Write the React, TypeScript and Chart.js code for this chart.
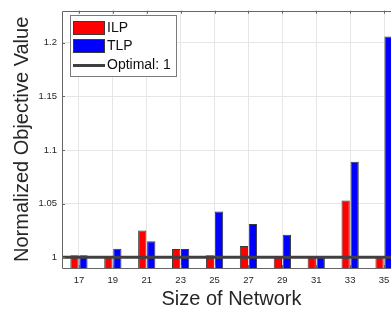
import React, { useEffect, useRef } from 'react';
import { Chart, registerables } from 'chart.js';

Chart.register(...registerables);

const categories = ['17', '19', '21', '23', '25', '27', '29', '31', '33', '35'];
const ilpValues = [1.002, 1.0003, 1.025, 1.0077, 1.0019, 1.0105, 1.0003, 1.001, 1.053, 1.0003];
const tlpValues = [1.002, 1.008, 1.015, 1.0077, 1.0426, 1.031, 1.021, 1.001, 1.089, 1.206];
const optimalValue = 1;
const optimalLabel = 'Optimal: 1';
const yTicks = [1, 1.05, 1.1, 1.15, 1.2];
const yMin = 0.99;
const yMax = 1.23;

const FONT = "'Liberation Sans', Arial, Helvetica, sans-serif";
const OPTIMAL_COLOR = '#404040';

const framePlugin = {
  id: 'frameAndLegend',
  afterDatasetsDraw(chart: any) {
    const { ctx, chartArea } = chart;
    const { left, right, top, bottom } = chartArea;
    const yScale = chart.scales.y;
    const xScale = chart.scales.x;
    ctx.save();
    // optimal reference line across the whole plot
    const yo = yScale.getPixelForValue(optimalValue);
    ctx.strokeStyle = OPTIMAL_COLOR;
    ctx.lineWidth = 3;
    ctx.beginPath();
    ctx.moveTo(left, yo);
    ctx.lineTo(right, yo);
    ctx.stroke();

    ctx.strokeStyle = '#666666';
    ctx.lineWidth = 1;
    // frame
    ctx.beginPath();
    ctx.moveTo(Math.round(left) + 0.5, Math.round(top) + 0.5);
    ctx.lineTo(Math.round(right) + 0.5, Math.round(top) + 0.5);
    ctx.lineTo(Math.round(right) + 0.5, Math.round(bottom) + 0.5);
    ctx.lineTo(Math.round(left) + 0.5, Math.round(bottom) + 0.5);
    ctx.closePath();
    ctx.stroke();
    // inward tick marks
    ctx.beginPath();
    yTicks.forEach((v) => {
      const y = Math.round(yScale.getPixelForValue(v)) + 0.5;
      ctx.moveTo(left, y);
      ctx.lineTo(left + 3, y);
    });
    categories.forEach((_, i) => {
      const x = Math.round(xScale.getPixelForValue(i)) + 0.5;
      ctx.moveTo(x, bottom);
      ctx.lineTo(x, bottom - 3);
      ctx.moveTo(x, top);
      ctx.lineTo(x, top + 3);
    });
    ctx.stroke();
    ctx.restore();
  },
  afterDraw(chart: any) {
    const { ctx } = chart;
    const ds = chart.data.datasets;
    ctx.save();
    // legend box
    ctx.fillStyle = '#ffffff';
    ctx.fillRect(70.5, 15.5, 106, 61);
    ctx.strokeStyle = '#7a7a7a';
    ctx.lineWidth = 1;
    ctx.strokeRect(70.5, 15.5, 106, 61);
    // swatches
    const rows = [21.5, 39.5];
    [0, 1].forEach((k) => {
      ctx.fillStyle = ds[k].backgroundColor;
      ctx.fillRect(73.5, rows[k], 31, 13);
      ctx.strokeStyle = '#3a3a3a';
      ctx.strokeRect(73.5, rows[k], 31, 13);
    });
    ctx.strokeStyle = OPTIMAL_COLOR;
    ctx.lineWidth = 3;
    ctx.beginPath();
    ctx.moveTo(73, 65.5);
    ctx.lineTo(105, 65.5);
    ctx.stroke();
    ctx.fillStyle = '#111111';
    ctx.font = `14px ${FONT}`;
    ctx.textBaseline = 'middle';
    ctx.textAlign = 'left';
    ctx.fillText(ds[0].label, 107, 28.5);
    ctx.fillText(ds[1].label, 107, 46.5);
    ctx.fillText(optimalLabel, 107, 65.5);
    ctx.restore();
  },
};

export default function App() {
  const canvasRef = useRef<HTMLCanvasElement | null>(null);

  useEffect(() => {
    if (!canvasRef.current) return;
    const chart = new Chart(canvasRef.current, {
      type: 'bar',
      data: {
        labels: categories,
        datasets: [
          {
            label: 'ILP',
            data: ilpValues,
            backgroundColor: '#ff0000',
            borderColor: '#3a3a3a',
            borderWidth: 1,
            base: yMin,
            categoryPercentage: 0.53,
            barPercentage: 0.92,
          } as any,
          {
            label: 'TLP',
            data: tlpValues,
            backgroundColor: '#0000ff',
            borderColor: '#3a3a3a',
            borderWidth: 1,
            base: yMin,
            categoryPercentage: 0.53,
            barPercentage: 0.92,
          } as any,
        ],
      },
      options: {
        responsive: false,
        animation: false,
        events: [],
        devicePixelRatio: 1,
        layout: { padding: { top: 9, right: 1, left: 0, bottom: 0 } },
        plugins: {
          legend: { display: false },
          tooltip: { enabled: false },
        },
        scales: {
          x: {
            type: 'category',
            offset: true,
            grid: { offset: false, color: '#e6e6e6', drawTicks: false },
            border: { display: false },
            ticks: {
              color: '#262626',
              padding: 7,
              font: { family: FONT, size: 9.5 },
              maxRotation: 0,
              autoSkip: false,
            },
            title: {
              display: true,
              text: 'Size of Network',
              color: '#262626',
              font: { family: FONT, size: 20, lineHeight: 1 },
              padding: { top: 0, bottom: 0 },
            },
            afterFit: (s: any) => {
              s.height = 41;
            },
          },
          y: {
            type: 'linear',
            min: yMin,
            max: yMax,
            grid: { color: '#e6e6e6', drawTicks: false },
            border: { display: false },
            ticks: {
              color: '#262626',
              padding: 5,
              font: { family: FONT, size: 9.5 },
              callback: (v: any) => String(Math.round(Number(v) * 1000) / 1000),
            },
            afterBuildTicks: (s: any) => {
              s.ticks = yTicks.map((v) => ({ value: v }));
            },
            title: {
              display: true,
              text: 'Normalized Objective Value',
              color: '#262626',
              font: { family: FONT, size: 20, lineHeight: 1.2 },
              padding: { top: 10, bottom: 0 },
            },
            afterFit: (s: any) => {
              s.width = 62;
            },
          },
        },
      },
      plugins: [framePlugin],
    });
    return () => chart.destroy();
  }, []);

  return (
    <div
      style={{
        position: 'fixed',
        left: 0,
        top: 0,
        width: 391,
        height: 309,
        overflow: 'hidden',
        background: '#ffffff',
      }}
    >
      <canvas ref={canvasRef} width={402} height={309} style={{ display: 'block' }} />
    </div>
  );
}
